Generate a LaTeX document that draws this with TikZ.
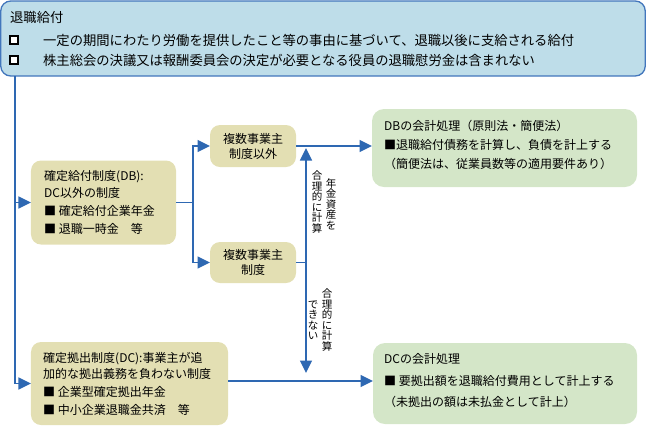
\documentclass[tikz,border=0pt]{standalone}
\usepackage{fontspec}
\setmainfont{Noto Sans CJK JP}
\usetikzlibrary{arrows.meta}
\definecolor{topfill}{RGB}{190,221,233}
\definecolor{topline}{RGB}{66,118,188}
\definecolor{khaki}{RGB}{227,223,179}
\definecolor{lgreen}{RGB}{212,230,200}
\definecolor{conn}{RGB}{46,104,178}
\begin{document}
\begin{tikzpicture}[x=1bp,y=-1bp,
  box/.style={inner sep=0pt, outer sep=0pt, rounded corners=10bp},
  kbox/.style={box, fill=khaki},
  gbox/.style={box, fill=lgreen, rounded corners=12bp},
  txt/.style={anchor=west, inner sep=0pt, font=\fontsize{12bp}{14bp}\selectfont},
  toptxt/.style={txt, font=\fontsize{13.3bp}{15bp}\selectfont},
  ctxt/.style={inner sep=0pt, align=center, font=\fontsize{12bp}{15bp}\selectfont},
  vtxt/.style={inner sep=0pt, align=center, font=\fontsize{10.5bp}{10.5bp}\selectfont},
  line/.style={draw=conn, line width=1.6bp},
  arr/.style={line, -{Triangle[length=12.5bp,width=12bp]}},
  darr/.style={line, {Triangle[length=12.5bp,width=12bp]}-{Triangle[length=12.5bp,width=12bp]}},
  sq/.style={draw=black, line width=1.8bp, fill=white, minimum size=7.5bp, inner sep=0pt}
]
\useasboundingbox (0,0) rectangle (647,427);

% top box
\node[box, fill=topfill, draw=topline, line width=1.3bp, minimum width=644.5bp, minimum height=75bp] (top) at (323,38.5) {};
\node[toptxt] (t0) at (10,17) {退職給付};
\node[sq] (sq1) at (14,40) {};
\node[sq] (sq2) at (14,60) {};
\node[toptxt] (t1) at (43,40) {一定の期間にわたり労働を提供したこと等の事由に基づいて、退職以後に支給される給付};
\node[toptxt] (t2) at (43,60) {株主総会の決議又は報酬委員会の決定が必要となる役員の退職慰労金は含まれない};

% DB box
\node[kbox, minimum width=145bp, minimum height=84bp] (db) at (103.5,202.5) {};
\node[txt] (db1) at (44,177) {確定給付制度(DB):};
\node[txt] (db2) at (44,193) {DC以外の制度};
\node[txt] (db3) at (44,211) {■ 確定給付企業年金};
\node[txt] (db4) at (44,229) {■ 退職一時金　等};

% multi-employer boxes
\node[kbox, minimum width=86bp, minimum height=42bp] (up) at (253,146) {};
\node[ctxt] (upt) at (up) {複数事業主\\制度以外};
\node[kbox, minimum width=86bp, minimum height=41bp] (low) at (253,262.5) {};
\node[ctxt] (lowt) at (low) {複数事業主\\制度};

% DB green box
\node[gbox, minimum width=265bp, minimum height=78bp] (dbg) at (504.5,148) {};
\node[txt] (g1) at (384,126) {DBの会計処理（原則法・簡便法）};
\node[txt] (g2) at (384,145) {■退職給付債務を計算し、負債を計上する};
\node[txt] (g3) at (384,164) {（簡便法は、従業員数等の適用要件あり）};

% DC box
\node[kbox, minimum width=197bp, minimum height=83bp] (dc) at (129.5,383.5) {};
\node[txt] (dc1) at (43,359) {確定拠出制度(DC):事業主が追};
\node[txt] (dc2) at (43,374) {加的な拠出義務を負わない制度};
\node[txt] (dc3) at (43,392) {■ 企業型確定拠出年金};
\node[txt] (dc4) at (43,410) {■ 中小企業退職金共済　等};

% DC green box
\node[gbox, minimum width=264bp, minimum height=81bp] (dcg) at (505,383.5) {};
\node[txt] (h1) at (384,359) {DCの会計処理};
\node[txt] (h2) at (384,381) {■ 要拠出額を退職給付費用として計上する};
\node[txt] (h3) at (384,402) {（未拠出の額は未払金として計上）};

% vertical labels
\node[vtxt] (va) at (331,204) {年\\金\\資\\産\\を};
\node[vtxt] (vb) at (317,202) {合\\理\\的\\に\\計\\算};
\node[vtxt] (vc) at (327,320) {合\\理\\的\\に\\計\\算};
\node[vtxt] (vd) at (313,320) {で\\き\\な\\い};

% connectors
\coordinate (trunk) at (15,0);
\coordinate (br) at (193,0);
\coordinate (vtop) at (306,148);
\coordinate (vbot) at (306,373);
\coordinate (dcy) at (0,381);
\draw[line] (top.south -| trunk) -- (trunk |- db.west);
\draw[arr] (top.south -| trunk) |- (dc.west);
\draw[arr] (trunk |- db.west) -- (db.west);
\draw[line] (db.east) -- (br |- db.east);
\draw[arr] (br |- db.east) |- (up.west);
\draw[arr] (br |- db.east) |- (low.west);
\draw[arr] (up.east) -- (up.east -| dbg.west);
\draw[darr] (vtop) -- (vbot);
\draw[line] (low.east) -- (low.east -| vtop);
\draw[arr] (dc.east |- dcy) -- (dcg.west |- dcy);
\end{tikzpicture}
\end{document}
